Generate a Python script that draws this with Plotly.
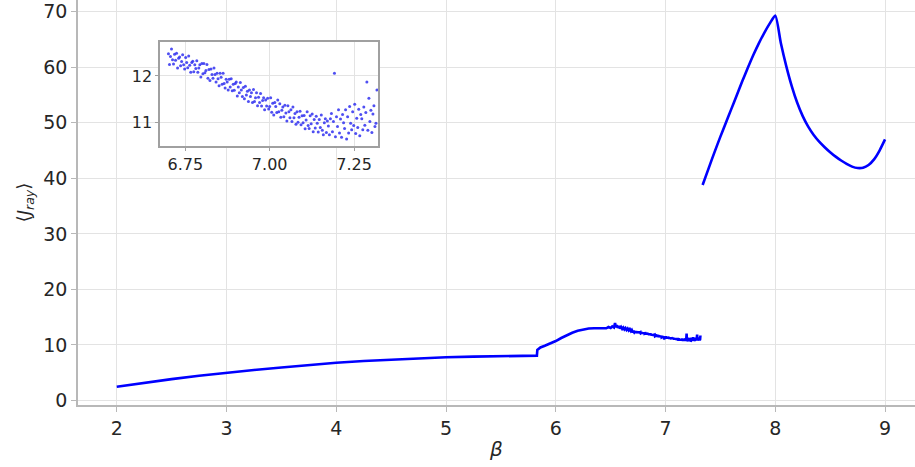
import plotly.graph_objects as go

# Low-beta branch: smooth rise up to the discontinuity near beta = 5.83
beta_low = [2.0, 2.25, 2.5, 2.75, 3.0, 3.25, 3.5, 3.75, 4.0, 4.25, 4.5, 4.75,
            5.0, 5.25, 5.5, 5.828]
j_low = [2.48, 3.20, 3.85, 4.45, 5.00, 5.50, 5.95, 6.40, 6.80, 7.10, 7.35, 7.58,
         7.78, 7.90, 7.98, 8.07]

# Intermediate branch after the jump, up to the onset of the noisy regime
beta_mid = [5.832, 5.86, 5.90, 5.95, 6.00, 6.05, 6.10, 6.15, 6.20, 6.25, 6.30,
            6.35, 6.40, 6.44, 6.46, 6.48, 6.50, 6.515, 6.53, 6.54, 6.548, 6.556,
            6.565, 6.575, 6.585, 6.595, 6.605, 6.615, 6.625, 6.635, 6.645, 6.655,
            6.665, 6.675, 6.685, 6.693]
j_mid = [9.10, 9.55, 9.85, 10.25, 10.70, 11.25, 11.75, 12.20, 12.55, 12.80, 12.95,
         13.02, 13.05, 13.10, 13.00, 13.22, 13.05, 13.35, 13.15, 13.95, 13.20, 13.55,
         13.10, 13.40, 12.95, 13.25, 12.90, 13.15, 12.80, 13.05, 12.70, 12.95,
         12.60, 12.85, 12.50, 12.70]

# Noisy regime (also shown in the inset)
beta_noisy = [
    6.700, 6.703, 6.706, 6.709, 6.712, 6.715, 6.718, 6.721, 6.724, 6.727, 6.730,
    6.733, 6.736, 6.739, 6.742, 6.745, 6.748, 6.751, 6.754, 6.757, 6.760, 6.763,
    6.766, 6.769, 6.772, 6.775, 6.778, 6.781, 6.784, 6.787, 6.790, 6.793, 6.796,
    6.799,
    6.802, 6.805, 6.808, 6.811, 6.814, 6.817, 6.820, 6.823, 6.826, 6.829, 6.832,
    6.835, 6.838, 6.841, 6.844, 6.847, 6.850, 6.853, 6.856, 6.859, 6.862, 6.865,
    6.868, 6.871, 6.874, 6.877, 6.880, 6.883, 6.886, 6.889, 6.892, 6.895, 6.898,
    6.901, 6.904, 6.907, 6.910, 6.913, 6.916, 6.919, 6.922, 6.925, 6.928, 6.931,
    6.934, 6.937, 6.940, 6.943, 6.946, 6.949, 6.952, 6.955, 6.958, 6.961, 6.964,
    6.967, 6.970, 6.973, 6.976, 6.979, 6.982, 6.985, 6.988, 6.991, 6.994, 6.997,
    7.000, 7.003, 7.006, 7.009, 7.012, 7.015, 7.018, 7.021, 7.024, 7.027, 7.030,
    7.033, 7.036, 7.039, 7.042, 7.045, 7.048, 7.051, 7.054, 7.057, 7.060, 7.063,
    7.066, 7.069, 7.072, 7.075, 7.078, 7.081, 7.084, 7.087, 7.090, 7.093, 7.096,
    7.099,
    7.102, 7.105, 7.108, 7.111, 7.114, 7.117, 7.120, 7.123, 7.126, 7.129, 7.132,
    7.135, 7.138, 7.141, 7.144, 7.147, 7.150, 7.153, 7.156, 7.159, 7.162, 7.165,
    7.168, 7.171, 7.174, 7.177, 7.180,
    7.183, 7.186, 7.189, 7.192, 7.195, 7.198, 7.201, 7.204, 7.207, 7.210, 7.213,
    7.216, 7.219, 7.222, 7.225, 7.228, 7.231, 7.234, 7.237, 7.240, 7.243, 7.246,
    7.249, 7.252, 7.255, 7.258, 7.261, 7.264, 7.267, 7.270, 7.273, 7.276, 7.279,
    7.282, 7.285, 7.288, 7.291, 7.294, 7.297, 7.300, 7.303, 7.306, 7.309, 7.312,
    7.315, 7.318,
]
j_noisy = [
    12.48, 12.25, 12.42, 12.58, 12.35, 12.26, 12.47, 12.34, 12.49, 12.17, 12.38,
    12.41, 12.22, 12.31, 12.46, 12.24, 12.15, 12.40, 12.29, 12.18, 12.43, 12.23,
    12.08, 12.29, 12.32, 12.09, 12.24, 12.16, 12.33, 12.08, 12.17, 12.24, 11.98,
    12.27,
    12.05, 12.27, 12.07, 12.12, 12.25, 11.95, 12.14, 11.90, 12.15, 12.03, 11.95,
    12.17, 12.03, 11.87, 12.06, 11.94, 11.79, 12.06, 11.97, 11.82, 12.06, 11.84,
    11.74, 11.93, 11.87, 11.70, 11.93, 11.76, 11.94, 11.68, 11.82, 11.69, 11.84,
    11.87, 11.57, 11.76, 11.64, 11.86, 11.70, 11.56, 11.75, 11.51, 11.78, 11.59,
    11.67, 11.45, 11.70, 11.56, 11.64, 11.43, 11.71, 11.45, 11.53, 11.64, 11.36,
    11.54, 11.43, 11.62, 11.35, 11.47, 11.53, 11.27, 11.48, 11.35, 11.52, 11.29,
    11.34, 11.53, 11.22, 11.41, 11.16, 11.43, 11.34, 11.21, 11.48, 11.23, 11.40,
    11.11, 11.26, 11.33, 11.12, 11.37, 11.20, 11.03, 11.36, 11.23, 11.10, 11.27,
    11.02, 11.33, 11.10, 11.19, 10.96, 11.23, 11.00, 11.11, 11.24, 10.95, 11.14,
    10.99,
    11.15, 10.86, 11.05, 11.23, 10.93, 10.87, 11.14, 10.97, 11.18, 10.80, 11.06,
    10.88, 11.13, 10.98, 10.79, 11.06, 10.89, 11.16, 10.83, 10.73, 10.99, 11.08,
    10.78, 11.03, 10.92, 10.73, 11.08,
    11.19, 10.80, 11.02, 12.06, 10.69, 11.12, 10.91, 11.27, 10.77, 11.07, 10.68,
    11.17, 10.99, 10.87, 11.27, 10.64, 11.12, 10.77, 11.34, 10.98, 10.84, 11.23,
    10.93, 11.39, 10.76, 11.09, 10.89, 11.28, 10.71, 11.17, 11.08, 10.84, 11.33,
    10.94, 11.21, 11.87, 10.83, 11.52, 11.02, 11.26, 10.78, 11.18, 11.36, 10.91,
    10.98, 11.70,
]

# High-beta branch: sharp peak at beta = 8 followed by a dip
beta_high = [7.338, 7.40, 7.45, 7.50, 7.55, 7.60, 7.65, 7.70, 7.75, 7.80, 7.85,
             7.90, 7.95, 8.00, 8.05, 8.10, 8.15, 8.20, 8.25, 8.30, 8.35, 8.40,
             8.45, 8.50, 8.55, 8.60, 8.65, 8.70, 8.75, 8.80, 8.85, 8.90, 8.95, 9.00]
j_high = [38.8, 42.2, 44.9, 47.5, 50.0, 52.5, 55.0, 57.5, 59.9, 62.2, 64.3,
          66.2, 67.9, 69.3, 64.4, 60.2, 56.6, 53.6, 51.2, 49.3, 47.8, 46.6,
          45.6, 44.7, 43.9, 43.2, 42.6, 42.1, 41.85, 41.9, 42.4, 43.4, 45.0, 47.0]

main_ticks_x = [2, 3, 4, 5, 6, 7, 8, 9]
main_ticks_y = [0, 10, 20, 30, 40, 50, 60, 70]
inset_ticks_x = [6.75, 7.00, 7.25]
inset_tick_text_x = ["6.75", "7.00", "7.25"]
inset_ticks_y = [11, 12]

LINE = "#0000ff"
FONT = "DejaVu Sans"
GRID = "#e3e3e3"
SPINE = "#b8b8b8"
TEXT = "#262626"

fig = go.Figure()

fig.add_trace(go.Scatter(
    x=beta_low + beta_mid + beta_noisy, y=j_low + j_mid + j_noisy,
    mode="lines", line=dict(color=LINE, width=2.6),
    xaxis="x", yaxis="y", showlegend=False))
fig.add_trace(go.Scatter(
    x=beta_high, y=j_high, mode="lines",
    line=dict(color=LINE, width=2.6, shape="spline", smoothing=0.6),
    xaxis="x", yaxis="y", showlegend=False))

# Inset: zoom on the noisy regime
fig.add_trace(go.Scatter(
    x=beta_noisy, y=j_noisy, mode="markers",
    marker=dict(color="#3030f0", size=3, opacity=0.85, line=dict(width=0)),
    xaxis="x2", yaxis="y2", showlegend=False))

fig.update_layout(
    width=915, height=467,
    margin=dict(l=78, r=0, t=0, b=62),
    paper_bgcolor="white", plot_bgcolor="white",
    font=dict(family=FONT, color=TEXT),
    xaxis=dict(
        domain=[0, 1], range=[1.647, 9.273], tickvals=main_ticks_x,
        showgrid=True, gridcolor=GRID, gridwidth=1, zeroline=False,
        showline=True, linecolor=SPINE, linewidth=1.5,
        ticks="outside", ticklen=5, tickcolor=SPINE,
        tickfont=dict(size=19, family=FONT, color=TEXT),
        title=dict(text="<i>β</i>", font=dict(size=20, family=FONT, color=TEXT),
                   standoff=4),
        anchor="y"),
    yaxis=dict(
        domain=[0, 1], range=[-0.81, 72.1], tickvals=main_ticks_y,
        showgrid=True, gridcolor=GRID, gridwidth=1, zeroline=False,
        showline=True, linecolor=SPINE, linewidth=1.5,
        ticks="outside", ticklen=5, tickcolor=SPINE,
        tickfont=dict(size=19, family=FONT, color=TEXT),
        title=dict(text="⟨<i>J</i><sub><i>ray</i></sub>⟩",
                   font=dict(size=18, family=FONT, color=TEXT), standoff=8),
        anchor="x"),
    xaxis2=dict(
        domain=[0.098, 0.3584], range=[6.675, 7.321],
        tickvals=inset_ticks_x, ticktext=inset_tick_text_x,
        showgrid=True, gridcolor=GRID, gridwidth=1, zeroline=False,
        showline=True, mirror=True, linecolor="#a0a0a0", linewidth=1.5,
        ticks="outside", ticklen=3, tickcolor="#a0a0a0",
        tickfont=dict(size=16, family=FONT, color=TEXT),
        anchor="y2"),
    yaxis2=dict(
        domain=[0.6395, 0.896], range=[10.49, 12.73], tickvals=inset_ticks_y,
        showgrid=True, gridcolor=GRID, gridwidth=1, zeroline=False,
        showline=True, mirror=True, linecolor="#a0a0a0", linewidth=1.5,
        ticks="outside", ticklen=3, tickcolor="#a0a0a0",
        tickfont=dict(size=16, family=FONT, color=TEXT),
        anchor="x2"),
)

fig.write_html("out.html")
